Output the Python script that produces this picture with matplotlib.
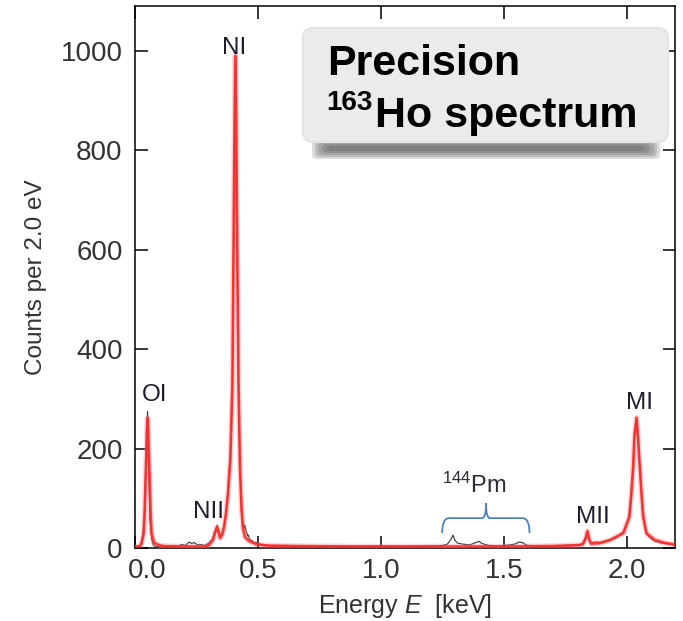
import matplotlib
matplotlib.use("Agg")
import matplotlib.pyplot as plt
from matplotlib.patches import FancyBboxPatch, PathPatch
from matplotlib.path import Path
import matplotlib.transforms as mtransforms

plt.rcParams['font.family'] = ['Liberation Sans', 'DejaVu Sans']
plt.rcParams['mathtext.fontset'] = 'custom'
plt.rcParams['mathtext.rm'] = 'Liberation Sans'
plt.rcParams['mathtext.it'] = 'Liberation Sans:italic'

# fitted spectrum (energy in keV, counts per 2 eV bin)
fit_energy = [0.005, 0.020, 0.027, 0.035, 0.0397, 0.0446, 0.048, 0.051, 0.0543, 0.058,
              0.0628, 0.067, 0.078, 0.107, 0.20, 0.285, 0.301, 0.317, 0.325, 0.3336,
              0.342, 0.3458, 0.354, 0.362, 0.370, 0.378, 0.3876, 0.3958, 0.4005, 0.4045,
              0.4078, 0.4114, 0.4155, 0.4208, 0.4268, 0.4329, 0.439, 0.447, 0.4633, 0.4917,
              0.532, 0.634, 0.90, 1.20, 1.50, 1.70, 1.768, 1.809, 1.821, 1.831,
              1.839, 1.846, 1.853, 1.865, 1.890, 1.931, 1.985, 2.009, 2.016, 2.025,
              2.030, 2.0389, 2.044, 2.052, 2.060, 2.066, 2.079, 2.113, 2.155, 2.195]
fit_counts = [3, 4, 10, 30, 80, 163, 230, 262, 230, 163,
              80, 30, 10, 4, 3, 3, 6, 16, 30, 42,
              28, 20, 26, 42, 70, 110, 180, 330, 600, 850,
              990, 850, 600, 330, 160, 80, 40, 22, 14, 8,
              5, 4, 3, 3, 3, 4, 5, 6, 8, 18,
              34, 18, 9, 9, 10, 16, 30, 62, 100, 163,
              225, 262, 225, 163, 100, 62, 30, 16, 10, 7]

# measured spectrum
data_energy = [0.005, 0.020, 0.030, 0.038, 0.044, 0.049, 0.051, 0.054, 0.058, 0.061,
               0.064, 0.068, 0.075, 0.090, 0.110, 0.125, 0.150, 0.170, 0.190, 0.205,
               0.220, 0.230, 0.240, 0.255, 0.270, 0.285, 0.300, 0.315, 0.325, 0.334,
               0.340, 0.346, 0.352, 0.362, 0.370, 0.378, 0.388, 0.396, 0.4005, 0.4045,
               0.408, 0.4114, 0.4155, 0.421, 0.427, 0.433, 0.440, 0.446, 0.449, 0.452,
               0.455, 0.458, 0.461, 0.465, 0.470, 0.478, 0.485, 0.495, 0.510, 0.530,
               0.560, 0.600, 0.650, 0.700, 0.750, 0.800, 0.900, 1.000, 1.100, 1.200,
               1.250, 1.270, 1.285, 1.293, 1.300, 1.310, 1.330, 1.360, 1.390, 1.400,
               1.410, 1.440, 1.480, 1.520, 1.545, 1.560, 1.575, 1.590, 1.620, 1.680,
               1.740, 1.780, 1.810, 1.822, 1.832, 1.839, 1.845, 1.852, 1.870, 1.900,
               1.930, 1.960, 1.985, 2.000, 2.009, 2.017, 2.025, 2.031, 2.039, 2.046,
               2.052, 2.060, 2.066, 2.079, 2.095, 2.113, 2.140, 2.170, 2.195]
data_counts = [2, 3, 12, 60, 170, 250, 274, 200, 110, 52,
               48, 18, 5, 2, 6, 2, 4, 3, 7, 5,
               12, 9, 11, 6, 7, 5, 10, 18, 34, 46,
               36, 24, 28, 44, 72, 115, 185, 320, 600, 840,
               980, 860, 590, 320, 150, 72, 38, 46, 40, 32,
               30, 24, 26, 18, 16, 14, 10, 11, 7, 6,
               4, 5, 3, 4, 3, 4, 3, 4, 3, 4,
               5, 8, 18, 26, 16, 10, 8, 6, 12, 13,
               9, 5, 4, 6, 8, 12, 11, 6, 4, 3,
               5, 6, 7, 10, 22, 32, 20, 10, 12, 11,
               17, 21, 33, 48, 66, 100, 165, 230, 258, 220,
               160, 98, 60, 28, 20, 14, 10, 8, 6]

# line labels: (text, energy, counts)
peak_labels = [('NI', 0.404, 1005), ('OI', 0.080, 308), ('NII', 0.300, 73),
               ('MII', 1.863, 63), ('MI', 2.052, 291)]
x_ticks = [0.0, 0.5, 1.0, 1.5, 2.0]
y_ticks = [0, 200, 400, 600, 800, 1000]

W, H = 683, 621
fig = plt.figure(figsize=(W / 100, H / 100), dpi=100)
ax = fig.add_axes([135 / W, 73 / H, 540 / W, 542 / H])


def fx(px):
    return px / W


def fy(py):
    return 1 - py / H


ax.plot(data_energy, data_counts, color='#333333', lw=0.8, zorder=2)
# soft halo under the fit line
ax.plot(fit_energy, fit_counts, color='#ff6a6a', lw=4.0, alpha=0.3, zorder=3)
ax.plot(fit_energy, fit_counts, color='#ff2a2a', lw=1.9, alpha=0.9, zorder=3)

for name, e, c in peak_labels:
    ax.text(e, c, name, fontsize=17.5, color='#1c1c2e', ha='center', va='center', zorder=4)

# 144Pm lines bracket
x0, x1, xm = 1.2485, 1.6036, 1.4268
yb, yh, yt = 30, 60, 90
verts = [(x0, yb), (x0, yh), (x0 + 0.028, yh), (xm - 0.016, yh), (xm, yh), (xm, yt),
         (xm, yh), (xm + 0.016, yh), (x1 - 0.028, yh), (x1, yh), (x1, yb)]
codes = [Path.MOVETO, Path.CURVE3, Path.CURVE3, Path.LINETO, Path.CURVE3, Path.CURVE3,
         Path.CURVE3, Path.CURVE3, Path.LINETO, Path.CURVE3, Path.CURVE3]
ax.add_patch(PathPatch(Path(verts, codes), fill=False, edgecolor='#4f81bd', lw=1.3, zorder=4))
ax.text(xm - 0.05, 127, r'$^{144}$Pm', fontsize=17, color='#2a2a35', ha='center', va='center')

ax.set_xlim(0.0, 2.195)
ax.set_ylim(0, 1090)
ax.set_xticks(x_ticks)
ax.set_xticklabels([f'{t:.1f}' for t in x_ticks])
ax.set_yticks(y_ticks)
ax.tick_params(direction='in', top=True, right=True, length=9, width=1.1,
               labelsize=20, labelcolor='#333333')
ax.tick_params(axis='x', pad=7)
ax.tick_params(axis='y', pad=9)
for s in ax.spines.values():
    s.set_linewidth(1.1)

# nudge the first x label off the axis corner
first = ax.get_xticklabels()[0]
first.set_transform(first.get_transform() + mtransforms.ScaledTranslation(12 / 100, 0, fig.dpi_scale_trans))

ax.set_xlabel('Energy $E$  [keV]', fontsize=18, color='#333333', labelpad=6)
ax.set_ylabel('Counts per 2.0 eV', fontsize=17.5, color='#333333', labelpad=10)

# title card with smudged shadow
for (l, r, t, b) in [(312, 660, 139, 159), (315, 657, 141, 157), (318, 654, 143, 155),
                     (322, 650, 144, 153), (326, 646, 146, 151)]:
    ax.add_patch(FancyBboxPatch((fx(l), fy(b)), fx(r) - fx(l), fy(t) - fy(b),
                                boxstyle='round,pad=0,rounding_size=0.008',
                                transform=fig.transFigure, facecolor='#2e2e2e', edgecolor='none',
                                alpha=0.17, clip_on=False, zorder=9))
ax.add_patch(FancyBboxPatch((fx(303), fy(142)), fx(668) - fx(303), fy(28) - fy(142),
                            boxstyle='round,pad=0,rounding_size=0.015',
                            transform=fig.transFigure, facecolor='#ebebeb', edgecolor='#e4e4e4',
                            lw=1.5, clip_on=False, zorder=10))
fig.text(fx(327), fy(75), 'Precision', fontsize=31, fontweight='bold', va='baseline', zorder=11)
fig.text(fx(326), fy(110), '163', fontsize=20, fontweight='bold', va='baseline', zorder=11)
fig.text(fx(375), fy(127), 'Ho spectrum', fontsize=31, fontweight='bold', va='baseline', zorder=11)

fig.savefig('out.png', dpi=100)
